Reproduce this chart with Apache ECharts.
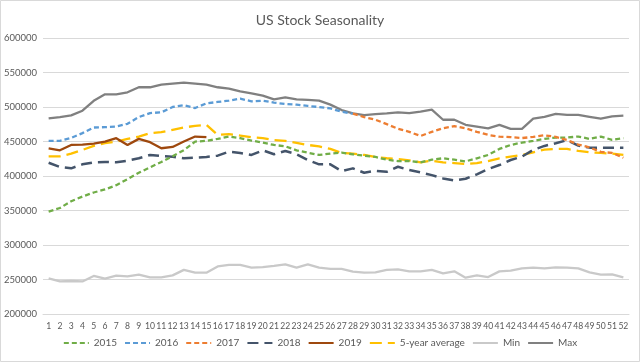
<!DOCTYPE html>
<html>
<head>
<meta charset="utf-8">
<script src="https://cdn.jsdelivr.net/npm/echarts@6/dist/echarts.min.js"></script>
<style>
html,body{margin:0;padding:0;background:#fff;}
#c{width:640px;height:362px;}
</style>
</head>
<body>
<div id="c"></div>
<script>
const weeks = Array.from({length: 52}, (_, i) => String(i + 1));
const yTicks = [200000, 250000, 300000, 350000, 400000, 450000, 500000, 550000, 600000];

const s2015 = [348400, 353600, 363400, 370200, 376100, 380500, 386700, 395500, 404700, 412500, 420300, 428600, 437500, 449900, 450900, 453800, 457200, 454800, 451300, 448400, 445000, 443100, 437200, 433800, 430500, 432400, 433800, 431500, 429500, 427600, 423600, 421700, 421700, 419800, 423600, 425700, 423600, 421200, 425700, 430500, 439200, 445000, 448400, 450900, 453800, 455700, 455700, 457200, 453800, 457200, 452300, 454800];
const s2016 = [450900, 450900, 455200, 462100, 470300, 470800, 471700, 475700, 485400, 491200, 492200, 500000, 502600, 498500, 505300, 507300, 509200, 512100, 508200, 509200, 506300, 504400, 503400, 501500, 500000, 498000, 493100, 490300];
const s2017 = [490300, 485400, 481500, 475200, 468400, 464000, 458000, 464000, 469300, 472200, 469000, 464000, 459600, 457000, 456300, 455000, 456700, 459000, 456700, 452100, 445500, 441400, 435000, 433400, 426400];
const s2017Start = 28;
const s2018 = [419200, 413000, 411100, 416900, 419800, 420300, 419800, 422200, 425700, 430500, 429000, 428000, 425700, 426500, 427600, 429500, 435300, 433400, 430500, 437200, 431500, 436300, 431500, 423200, 416900, 416900, 407100, 411100, 404700, 407600, 406100, 413400, 408600, 405200, 401300, 396500, 393600, 396000, 402300, 410100, 415900, 423200, 428000, 437800, 443600, 447500, 451900, 444000, 441100, 441100, 441100, 441100];
const s2019 = [440200, 437300, 445000, 445500, 447000, 449900, 454800, 445000, 453800, 449000, 440200, 442100, 449900, 457200, 456300];
const avg5 = [428500, 428500, 432400, 437800, 443600, 447500, 449900, 453800, 457000, 462000, 463500, 466900, 470300, 472700, 474200, 459600, 460600, 458600, 456300, 454800, 451900, 450900, 448000, 445000, 442800, 439200, 433400, 432400, 430500, 427600, 425700, 424600, 422700, 419800, 422200, 419800, 418800, 417500, 418800, 421700, 425700, 428000, 430500, 434400, 438200, 439200, 439200, 436300, 434400, 433400, 432400, 430500];
const sMin = [251600, 247200, 247800, 247200, 255100, 251200, 255600, 254500, 257000, 253100, 253100, 256000, 263900, 259900, 259900, 269000, 271100, 271100, 267200, 268000, 269700, 272000, 267200, 272000, 267200, 265300, 265300, 261400, 260000, 260400, 263900, 264600, 261800, 261800, 263900, 258900, 261800, 252600, 256000, 253600, 261800, 262800, 266200, 267200, 266200, 267700, 267200, 266200, 260400, 257000, 257500, 253100];
const sMax = [483400, 485400, 487800, 494600, 509000, 518400, 518400, 521300, 528600, 528600, 532500, 534000, 535400, 534000, 532500, 528600, 526700, 522800, 519900, 516500, 511100, 514000, 511100, 510200, 509200, 503400, 495600, 490700, 488300, 489800, 490700, 492200, 491200, 493400, 496300, 481500, 481500, 474200, 471700, 469000, 474200, 468400, 468400, 483000, 485600, 490000, 488500, 488500, 485600, 483000, 486500, 487500];

const seriesNames = ['2015', '2016', '2017', '2018', '2019', '5-year average', 'Min', 'Max'];

function padStart(arr, start) {
  const out = new Array(start - 1).fill(null);
  return out.concat(arr);
}

const FONT = 'Lato';
const TXT = '#595959';

function mk(name, data, color, type, width, z) {
  return {
    name: name, type: 'line', data: data, symbol: 'none', showSymbol: false, z: z,
    connectNulls: false, animation: false,
    lineStyle: {color: color, width: width, type: type, cap: 'butt', join: 'round'},
    itemStyle: {color: color}
  };
}

const chart = echarts.init(document.getElementById('c'), null, {renderer: 'canvas'});
chart.setOption({
  backgroundColor: '#ffffff',
  animation: false,
  title: {
    text: 'US Stock Seasonality', left: 'center', top: 8,
    textStyle: {fontFamily: FONT, fontSize: 14, fontWeight: 'normal', color: TXT}
  },
  graphic: [{
    type: 'rect', silent: true, z: 100,
    shape: {x: 0.5, y: 0.5, width: 639, height: 361},
    style: {fill: 'none', stroke: '#d9d9d9', lineWidth: 1}
  }],
  grid: {left: 43, right: 11, top: 38, bottom: 48, containLabel: false},
  legend: {
    data: seriesNames, bottom: 9, left: 'center',
    itemWidth: 25, itemHeight: 10, itemGap: 7,
    itemStyle: {opacity: 0},
    textStyle: {fontFamily: FONT, fontSize: 10, color: TXT}
  },
  xAxis: {
    type: 'category', data: weeks, boundaryGap: true,
    axisLine: {show: true, lineStyle: {color: '#d9d9d9'}},
    axisTick: {show: false},
    axisLabel: {interval: 0, color: TXT, fontFamily: FONT, fontSize: 8.6, margin: 8}
  },
  yAxis: {
    type: 'value', min: yTicks[0], max: yTicks[yTicks.length - 1], interval: yTicks[1] - yTicks[0],
    axisLine: {show: false}, axisTick: {show: false},
    axisLabel: {color: TXT, fontFamily: FONT, fontSize: 9.5, margin: 6, formatter: function (v) { return String(v); }},
    splitLine: {lineStyle: {color: '#d9d9d9', width: 1}}
  },
  series: [
    mk('2015', s2015, '#70AD47', [5, 3], 2.3, 5),
    mk('2016', s2016, '#5B9BD5', [5, 3], 2.3, 6),
    mk('2017', padStart(s2017, s2017Start), '#ED7D31', [5, 3], 2.3, 6),
    mk('2018', s2018, '#44546A', [11, 6], 2.5, 4),
    mk('2019', s2019, '#9E480E', 'solid', 2.3, 7),
    mk('5-year average', avg5, '#FFC000', [12, 6], 2.3, 3),
    mk('Min', sMin, '#C9C9C9', 'solid', 2.3, 2),
    mk('Max', sMax, '#808080', 'solid', 2.3, 2)
  ]
});
</script>
</body>
</html>
